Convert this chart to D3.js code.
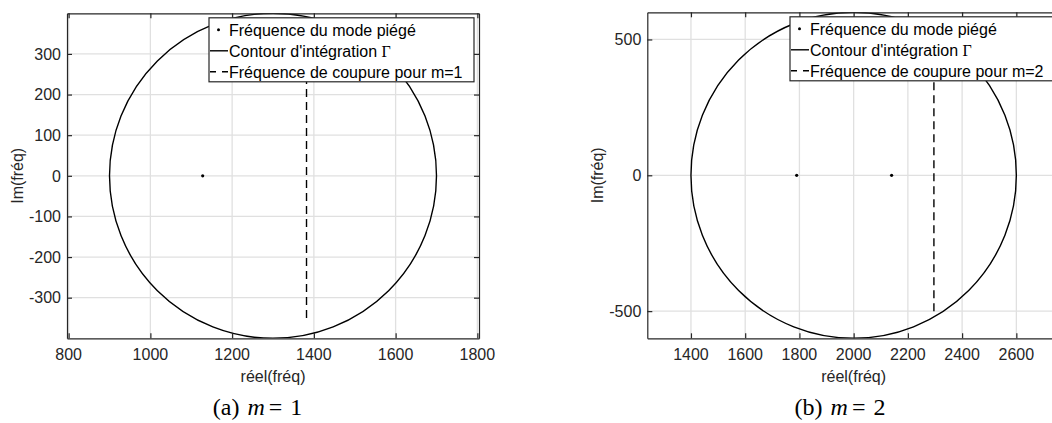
<!DOCTYPE html>
<html>
<head>
<meta charset="utf-8">
<script src="https://cdn.jsdelivr.net/npm/d3@7"></script>
<style>
  body { margin: 0; background: #fff; }
  svg { display: block; }
</style>
</head>
<body>
<div id="chart"></div>
<script>
'use strict'

////////////////////////////////////////
//////////////// Data //////////////////
////////////////////////////////////////

// panel (a) m = 1
const aXTicks = [800, 1000, 1200, 1400, 1600, 1800];
const aYTicks = [-300, -200, -100, 0, 100, 200, 300];
const aModes = [1128];              // trapped mode frequencies (real part)
const aCutoff = 1382;               // cutoff frequency for m=1
const aCutoffSpan = [-350, 350];
const aContour = [1300, 400];       // center, radius

// panel (b) m = 2
const bXTicks = [1400, 1600, 1800, 2000, 2200, 2400, 2600];
const bYTicks = [-500, 0, 500];
const bModes = [1790, 2140];
const bCutoff = 2296;
const bCutoffSpan = [-500, 500];
const bContour = [2000, 600];

const legendLabels = [
  "Fréquence du mode piégé",
  "Contour d'intégration ",
  "Fréquence de coupure pour m="
];

////////////////////////////////////////
////////////// SVG Setup ///////////////
////////////////////////////////////////

const W = 1052, H = 423;
const svg = d3.select('#chart').append('svg')
  .attr('width', W)
  .attr('height', H);

const axisColor = '#262626';
const gridColor = '#e0e0e0';
const sans = "'Liberation Sans', Arial, Helvetica, sans-serif";
const serif = "'Liberation Serif', 'Times New Roman', serif";

let panel = (opts) => {

  const x = d3.scaleLinear().domain(opts.xDomain).range([opts.left, opts.right]);
  const y = d3.scaleLinear().domain(opts.yDomain).range([opts.bottom, opts.top]);

  const g = svg.append('g');

  const clipId = 'clip-' + opts.id;
  g.append('clipPath').attr('id', clipId)
    .append('rect')
    .attr('x', opts.left).attr('y', opts.top)
    .attr('width', opts.right - opts.left)
    .attr('height', opts.bottom - opts.top);

  // grid
  g.selectAll('.gx').data(opts.xTicks).join('line')
    .attr('x1', d => x(d)).attr('x2', d => x(d))
    .attr('y1', opts.top).attr('y2', opts.bottom)
    .attr('stroke', gridColor).attr('stroke-width', 1.3);
  g.selectAll('.gy').data(opts.yTicks).join('line')
    .attr('y1', d => y(d)).attr('y2', d => y(d))
    .attr('x1', opts.left).attr('x2', opts.right)
    .attr('stroke', gridColor).attr('stroke-width', 1.3);

  const plot = g.append('g').attr('clip-path', `url(#${clipId})`);

  // contour
  plot.append('ellipse')
    .attr('cx', x(opts.contour[0]))
    .attr('cy', y(0))
    .attr('rx', x(opts.contour[0] + opts.contour[1]) - x(opts.contour[0]))
    .attr('ry', y(-opts.contour[1]) - y(0))
    .attr('fill', 'none')
    .attr('stroke', '#000')
    .attr('stroke-width', 1.4);

  // cutoff
  plot.append('line')
    .attr('x1', x(opts.cutoff)).attr('x2', x(opts.cutoff))
    .attr('y1', y(opts.cutoffSpan[0])).attr('y2', y(opts.cutoffSpan[1]))
    .attr('stroke', '#000')
    .attr('stroke-width', 1.4)
    .attr('stroke-dasharray', '8,5');

  // trapped modes
  plot.selectAll('.mode').data(opts.modes).join('circle')
    .attr('cx', d => x(d)).attr('cy', y(0))
    .attr('r', 1.6)
    .attr('fill', '#000');

  // axes box with ticks on all sides
  const axes = [
    [d3.axisBottom(x), `translate(0,${opts.bottom})`, opts.xTicks],
    [d3.axisTop(x), `translate(0,${opts.top})`, opts.xTicks],
    [d3.axisLeft(y), `translate(${opts.left},0)`, opts.yTicks],
    [d3.axisRight(y), `translate(${opts.right},0)`, opts.yTicks]
  ];
  axes.forEach(([ax, tr, ticks]) => {
    const a = g.append('g')
      .attr('transform', tr)
      .call(ax.tickValues(ticks).tickSizeInner(-5).tickSizeOuter(0).tickFormat(''));
    a.select('.domain').attr('stroke', axisColor).attr('stroke-width', 1.2);
    a.selectAll('.tick line').attr('stroke', axisColor).attr('stroke-width', 1.2);
  });

  // tick labels
  g.selectAll('.xl').data(opts.xTicks).join('text')
    .attr('x', d => x(d)).attr('y', 360)
    .attr('text-anchor', 'middle')
    .attr('font-family', sans).attr('font-size', 16)
    .attr('fill', axisColor)
    .text(d => d);
  g.selectAll('.yl').data(opts.yTicks).join('text')
    .attr('x', opts.left - 6).attr('y', d => y(d) + 5.7)
    .attr('text-anchor', 'end')
    .attr('font-family', sans).attr('font-size', 16)
    .attr('fill', axisColor)
    .text(d => d);

  // axis titles
  g.append('text')
    .attr('x', (opts.left + opts.right) / 2).attr('y', 382)
    .attr('text-anchor', 'middle')
    .attr('font-family', sans).attr('font-size', 16)
    .attr('fill', axisColor)
    .text('réel(fréq)');
  g.append('text')
    .attr('transform', `translate(${opts.left - 44},${y(0)}) rotate(-90)`)
    .attr('text-anchor', 'middle')
    .attr('font-family', sans).attr('font-size', 16)
    .attr('fill', axisColor)
    .text('Im(fréq)');

  // legend
  const lx = opts.right - 5 - 265, ly = opts.top + 4.5;
  const leg = g.append('g');
  leg.append('rect')
    .attr('x', lx).attr('y', ly).attr('width', 265).attr('height', 64)
    .attr('fill', '#fff').attr('stroke', axisColor).attr('stroke-width', 1.2);
  const rowY = i => ly + 12 + 21 * i;
  leg.append('circle').attr('cx', lx + 9.5).attr('cy', rowY(0)).attr('r', 1.5).attr('fill', '#000');
  leg.append('line')
    .attr('x1', lx + 1).attr('x2', lx + 19).attr('y1', rowY(1)).attr('y2', rowY(1))
    .attr('stroke', '#000').attr('stroke-width', 1.4);
  leg.append('line')
    .attr('x1', lx + 1).attr('x2', lx + 19).attr('y1', rowY(2)).attr('y2', rowY(2))
    .attr('stroke', '#000').attr('stroke-width', 1.4)
    .attr('stroke-dasharray', '6,6');
  const txt = leg.selectAll('.lt').data(legendLabels).join('text')
    .attr('x', lx + 20).attr('y', (d, i) => rowY(i) + 5.7)
    .attr('font-family', sans).attr('font-size', 16)
    .attr('fill', '#000')
    .text(d => d);
  txt.filter((d, i) => i === 1).append('tspan')
    .attr('font-family', serif).attr('font-size', 16).text('Γ');
  txt.filter((d, i) => i === 2).append('tspan').text(opts.m);

  // caption
  const cap = g.append('text')
    .attr('x', opts.captionX).attr('y', 415)
    .attr('text-anchor', 'middle')
    .attr('font-family', serif).attr('font-size', 24)
    .attr('fill', '#000');
  cap.append('tspan').text(`(${opts.letter})`);
  cap.append('tspan').attr('dx', 8).attr('font-style', 'italic').text('m');
  cap.append('tspan').attr('dx', 4).text('=');
  cap.append('tspan').attr('dx', 8).text(opts.m);
};

panel({
  id: 'a', letter: 'a', m: 1,
  xDomain: [796, 1804], yDomain: [-400, 400],
  left: 67, right: 479, top: 13.3, bottom: 338.3,
  xTicks: aXTicks, yTicks: aYTicks,
  modes: aModes, cutoff: aCutoff, cutoffSpan: aCutoffSpan, contour: aContour,
  captionX: 257.5
});

panel({
  id: 'b', letter: 'b', m: 2,
  xDomain: [1239, 2761], yDomain: [-600, 600],
  left: 647.3, right: 1060, top: 12.3, bottom: 338.3,
  xTicks: bXTicks, yTicks: bYTicks,
  modes: bModes, cutoff: bCutoff, cutoffSpan: bCutoffSpan, contour: bContour,
  captionX: 840
});
</script>
</body>
</html>
